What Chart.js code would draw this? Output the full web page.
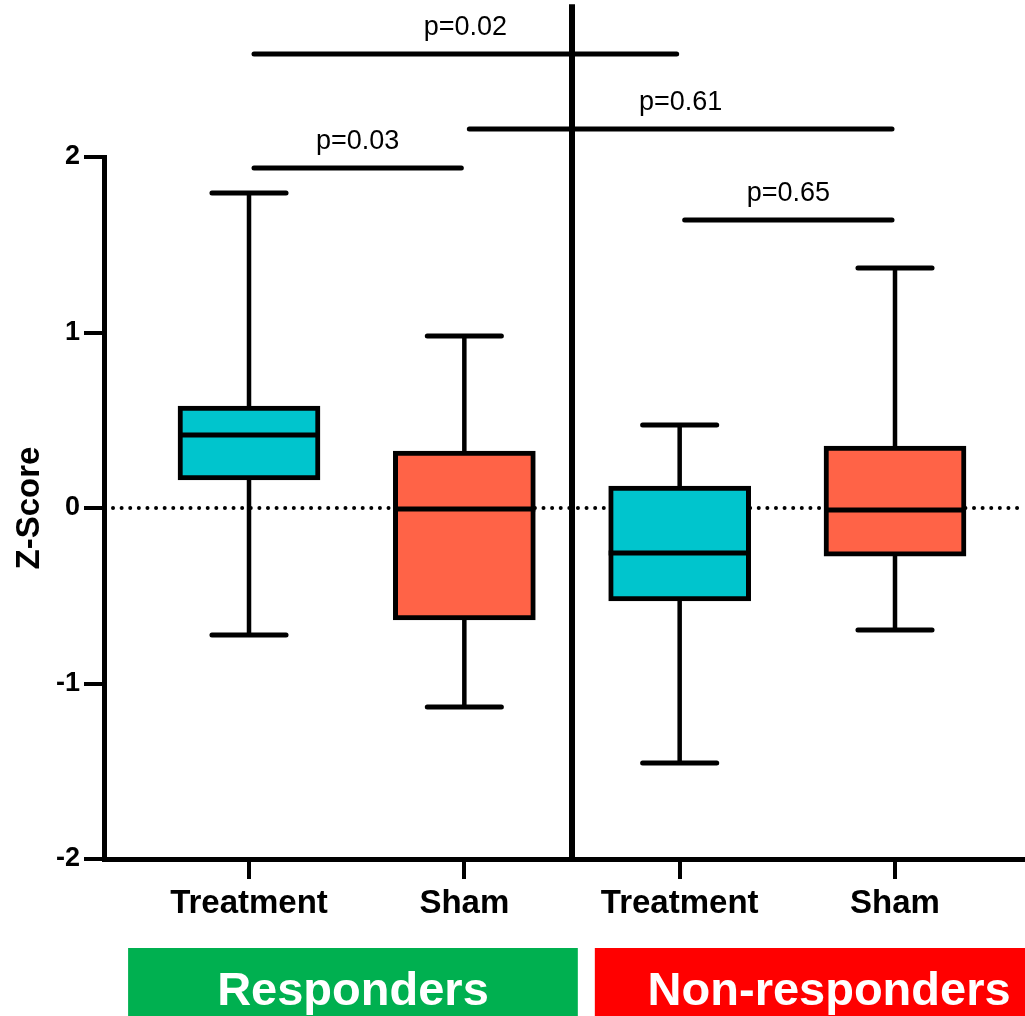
<!DOCTYPE html>
<html>
<head>
<meta charset="utf-8">
<script src="https://cdn.jsdelivr.net/npm/chart.js@4"></script>
<style>
  html, body { margin: 0; padding: 0; background: #fff; }
</style>
</head>
<body>
<canvas id="zscore" width="1025" height="1016"></canvas>
<script>
// box positions on the x axis and their labels
const positions = [1, 2, 3, 4];
const groupLabels = ['Treatment', 'Sham', 'Treatment', 'Sham'];

// five-number summaries
const whiskerHigh = [1.795, 0.98, 0.473, 1.368];
const q3 = [0.581, 0.325, 0.125, 0.353];
const medians = [0.416, -0.006, -0.256, -0.011];
const q1 = [0.16, -0.638, -0.53, -0.274];
const whiskerLow = [-0.724, -1.134, -1.453, -0.695];

const boxColors = ['#00C5CD', '#FF6347', '#00C5CD', '#FF6347'];

// significance brackets
const bracketFrom = [1, 1, 2, 3];
const bracketTo = [3, 2, 4, 4];
const bracketLevel = [2.587, 1.937, 2.16, 1.641];
const bracketText = ['p=0.02', 'p=0.03', 'p=0.61', 'p=0.65'];

// cohort bands under the axis
const cohortNames = ['Responders', 'Non-responders'];
const cohortColors = ['#00B050', '#FF0000'];
const cohortStart = [0.4385, 2.606];
const cohortEnd = [2.527, 4.782];

Chart.defaults.font.family = '"Liberation Sans", Arial, sans-serif';
Chart.defaults.color = '#000';

const boxExtras = {
  id: 'boxExtras',
  beforeDatasetsDraw(chart) {
    const {ctx, chartArea, scales: {y}} = chart;
    const y0 = y.getPixelForValue(0);
    ctx.save();
    ctx.strokeStyle = '#000';
    ctx.lineWidth = 4;
    ctx.lineCap = 'round';
    ctx.setLineDash([0.01, 8.6]);
    ctx.beginPath();
    ctx.moveTo(chartArea.left + 9, y0);
    ctx.lineTo(chartArea.right, y0);
    ctx.stroke();
    ctx.restore();
  },
  afterDatasetsDraw(chart) {
    const {ctx, scales: {x, y}} = chart;
    const bars = chart.getDatasetMeta(0).data;
    ctx.save();
    ctx.strokeStyle = '#000';
    positions.forEach((p, i) => {
      const px = x.getPixelForValue(p);
      const capL = x.getPixelForValue(p - 0.172);
      const capR = x.getPixelForValue(p + 0.172);
      // whiskers
      ctx.lineWidth = 4.5;
      ctx.lineCap = 'butt';
      ctx.beginPath();
      ctx.moveTo(px, y.getPixelForValue(whiskerHigh[i]));
      ctx.lineTo(px, y.getPixelForValue(q3[i]));
      ctx.moveTo(px, y.getPixelForValue(q1[i]));
      ctx.lineTo(px, y.getPixelForValue(whiskerLow[i]));
      ctx.stroke();
      // caps
      ctx.lineWidth = 5;
      ctx.lineCap = 'round';
      ctx.beginPath();
      ctx.moveTo(capL, y.getPixelForValue(whiskerHigh[i]));
      ctx.lineTo(capR, y.getPixelForValue(whiskerHigh[i]));
      ctx.moveTo(capL, y.getPixelForValue(whiskerLow[i]));
      ctx.lineTo(capR, y.getPixelForValue(whiskerLow[i]));
      ctx.stroke();
      // median
      const b = bars[i].getProps(['x', 'width'], true);
      ctx.lineWidth = 5;
      ctx.lineCap = 'butt';
      ctx.beginPath();
      ctx.moveTo(b.x - b.width / 2, y.getPixelForValue(medians[i]));
      ctx.lineTo(b.x + b.width / 2, y.getPixelForValue(medians[i]));
      ctx.stroke();
    });
    ctx.restore();
  },
  afterDraw(chart) {
    const {ctx, chartArea, scales: {x, y}} = chart;
    ctx.save();
    // divider between cohorts
    ctx.strokeStyle = '#000';
    ctx.lineWidth = 6;
    ctx.beginPath();
    ctx.moveTo(x.getPixelForValue(2.5), y.getPixelForValue(2.87));
    ctx.lineTo(x.getPixelForValue(2.5), chartArea.bottom);
    ctx.stroke();

    // brackets + p values
    ctx.lineWidth = 5;
    ctx.lineCap = 'round';
    ctx.font = '27px "Liberation Sans", Arial, sans-serif';
    ctx.fillStyle = '#000';
    ctx.textAlign = 'center';
    ctx.textBaseline = 'alphabetic';
    bracketText.forEach((t, i) => {
      const x1 = x.getPixelForValue(bracketFrom[i]) + 5;
      const x2 = x.getPixelForValue(bracketTo[i]) - 3;
      const by = y.getPixelForValue(bracketLevel[i]);
      ctx.beginPath();
      ctx.moveTo(x1, by);
      ctx.lineTo(x2, by);
      ctx.stroke();
      ctx.fillText(t, (x1 + x2) / 2, by - 19);
    });

    // cohort bands
    const bandTop = chartArea.bottom + 89;
    ctx.font = 'bold 47px "Liberation Sans", Arial, sans-serif';
    cohortNames.forEach((name, i) => {
      const l = x.getPixelForValue(cohortStart[i]);
      const r = x.getPixelForValue(cohortEnd[i]);
      ctx.fillStyle = cohortColors[i];
      ctx.fillRect(l, bandTop, r - l, chart.height - bandTop);
      ctx.fillStyle = '#fff';
      ctx.fillText(name, (l + r) / 2, bandTop + 57);
    });
    ctx.restore();
  }
};

new Chart(document.getElementById('zscore'), {
  type: 'bar',
  data: {
    datasets: [{
      data: positions.map((p, i) => ({x: p, y: [q1[i], q3[i]]})),
      backgroundColor: boxColors,
      borderColor: '#000',
      borderWidth: 5,
      borderSkipped: false,
      barThickness: 142
    }]
  },
  options: {
    responsive: false,
    animation: false,
    layout: {padding: {top: 157, right: 0, bottom: 0, left: 0}},
    plugins: {legend: {display: false}, tooltip: {enabled: false}},
    scales: {
      x: {
        type: 'linear',
        offset: false,
        min: 0.3266,
        max: 4.6037,
        afterBuildTicks(axis) { axis.ticks = positions.map(v => ({value: v})); },
        afterFit(axis) { axis.height = 157; },
        ticks: {
          autoSkip: false,
          maxRotation: 0,
          padding: 5,
          font: {size: 33, weight: 'bold'},
          callback: v => groupLabels[positions.indexOf(v)] ?? ''
        },
        grid: {offset: false, drawOnChartArea: false, drawTicks: true, tickLength: 20, lineWidth: 4, color: '#000'},
        border: {color: '#000', width: 5}
      },
      y: {
        min: -2,
        max: 2,
        afterBuildTicks(axis) { axis.ticks = [-2, -1, 0, 1, 2].map(v => ({value: v})); },
        afterFit(axis) { axis.width = 104; },
        ticks: {padding: 4, font: {size: 27, weight: 'bold'}},
        grid: {drawOnChartArea: false, drawTicks: true, tickLength: 20, lineWidth: 4, color: '#000'},
        border: {color: '#000', width: 5},
        title: {
          display: true,
          text: 'Z-Score',
          font: {size: 33, weight: 'bold'},
          padding: {top: 10, bottom: 0}
        }
      }
    }
  },
  plugins: [boxExtras]
});
</script>
</body>
</html>
